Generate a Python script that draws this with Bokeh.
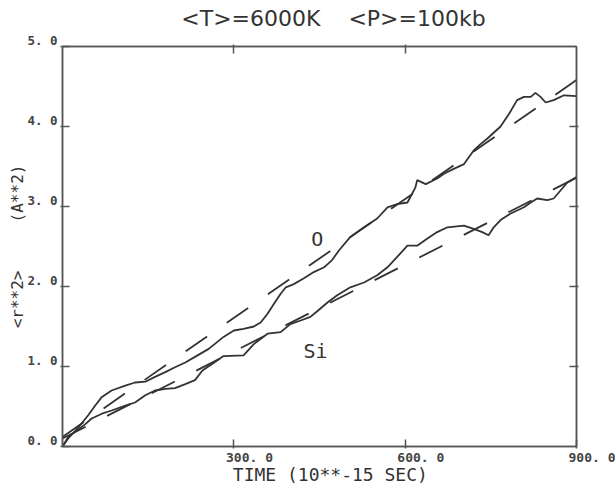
from bokeh.plotting import figure
from bokeh.models import LinearAxis, FixedTicker, Label, CustomLabelingPolicy
from bokeh.embed import file_html
from bokeh.resources import INLINE

# ---- data ----
time_o = [0, 10, 28, 45, 57, 69, 86, 110, 127, 145, 162, 180, 197, 215, 232, 256,
          282, 300, 317, 335, 347, 359, 370, 382, 391, 405, 422, 440, 458, 472, 484,
          504, 528, 551, 569, 586, 604, 618, 621, 636, 656, 668, 685, 703, 720, 732,
          744, 767, 782, 796, 808, 820, 828, 837, 846, 860, 878, 900]
msd_o = [0.0, 0.10, 0.24, 0.39, 0.51, 0.62, 0.70, 0.76, 0.80, 0.81, 0.87, 0.93, 0.99,
         1.05, 1.12, 1.22, 1.37, 1.45, 1.47, 1.50, 1.55, 1.66, 1.78, 1.91, 1.99, 2.03,
         2.10, 2.18, 2.24, 2.33, 2.45, 2.62, 2.74, 2.85, 2.99, 3.03, 3.05, 3.24, 3.33,
         3.28, 3.35, 3.41, 3.47, 3.53, 3.70, 3.78, 3.85, 4.00, 4.16, 4.33, 4.37, 4.37,
         4.42, 4.37, 4.30, 4.33, 4.39, 4.38]

time_si = [0, 10, 25, 40, 51, 69, 86, 110, 127, 145, 162, 180, 197, 215, 232, 245,
           262, 282, 317, 335, 359, 382, 399, 417, 434, 446, 464, 481, 504, 528, 551,
           569, 586, 604, 621, 639, 656, 674, 703, 720, 735, 746, 755, 767, 784, 796,
           808, 820, 831, 849, 860, 872, 884, 900]
msd_si = [0.0, 0.12, 0.20, 0.28, 0.35, 0.41, 0.45, 0.51, 0.55, 0.64, 0.70, 0.72, 0.73,
          0.78, 0.83, 0.95, 1.03, 1.13, 1.14, 1.28, 1.41, 1.43, 1.53, 1.575, 1.62, 1.69,
          1.80, 1.89, 1.99, 2.05, 2.14, 2.24, 2.37, 2.51, 2.51, 2.60, 2.68, 2.74, 2.76,
          2.72, 2.68, 2.64, 2.74, 2.83, 2.91, 2.95, 2.99, 3.05, 3.10, 3.08, 3.10, 3.20,
          3.30, 3.37]

fit_time = [0, 900]
fit_o = [0.12, 4.58]
fit_si = [0.10, 3.36]

x_ticks = [300, 600, 900]
x_tick_labels = ["300. 0", "600. 0", "900. 0"]
y_ticks = [0, 1, 2, 3, 4, 5]
y_tick_labels = ["0. 0", "1. 0", "2. 0", "3. 0", "4. 0", "5. 0"]

title_text = "<T>=6000K\u00a0\u00a0\u00a0\u00a0<P>=100kb"
x_title = "TIME (10**-15 SEC)"
y_title = "<r**2>" + "\u00a0" * 5 + "(A**2)"
label_o = "O"
label_si = "Si"

INK = "#333333"
FRAME = "#555555"
MONO = "DejaVu Sans Mono"
NB = "\u00a0"

p = figure(width=615, height=489, x_range=(0, 900), y_range=(0, 5),
           output_backend="svg", toolbar_location=None,
           min_border_left=62, min_border_right=39, min_border_top=46, min_border_bottom=43,
           x_axis_location=None, y_axis_location=None)
p.grid.visible = False
p.outline_line_color = FRAME
p.outline_line_width = 1.5
p.background_fill_color = "white"
p.border_fill_color = "white"

# title (leading no-break spaces shift its centre to the right like the reference)
p.title.text = NB * 4 + title_text
p.title.align = "center"
p.title.text_font = "DejaVu Sans"
p.title.text_font_size = "22px"
p.title.text_font_style = "normal"
p.title.text_color = INK
p.title.standoff = 6

hide_labels = CustomLabelingPolicy(code="""
for (const i of [...indices]) { indices.unset(i) }
return indices
""")

def style_axis(ax, ticks):
    ax.ticker = FixedTicker(ticks=ticks)
    ax.axis_line_color = FRAME
    ax.axis_line_width = 1.5
    ax.major_tick_line_color = FRAME
    ax.major_tick_line_width = 1.5
    ax.minor_tick_line_color = None
    ax.major_tick_in = 7
    ax.major_tick_out = 2

bottom = LinearAxis()
style_axis(bottom, x_ticks)
bottom.major_label_overrides = {t: NB * 4 + l for t, l in zip(x_ticks, x_tick_labels)}
bottom.major_label_text_font = MONO
bottom.major_label_text_font_style = "bold"
bottom.major_label_text_font_size = "13px"
bottom.major_label_text_color = "#444444"
bottom.major_label_standoff = 1
bottom.axis_label = NB * 2 + x_title
bottom.axis_label_text_font = MONO
bottom.axis_label_text_font_style = "normal"
bottom.axis_label_text_font_size = "18px"
bottom.axis_label_text_color = INK
bottom.axis_label_standoff = -4
p.add_layout(bottom, "below")

left = LinearAxis()
style_axis(left, y_ticks)
left.major_label_overrides = {t: l + "\n" for t, l in zip(y_ticks, y_tick_labels)}
left.major_label_text_font = MONO
left.major_label_text_font_style = "bold"
left.major_label_text_font_size = "12.5px"
left.major_label_text_line_height = 0.75
left.major_label_text_color = "#444444"
left.major_label_standoff = 3
left.axis_label = y_title
left.axis_label_text_font = MONO
left.axis_label_text_font_style = "normal"
left.axis_label_text_font_size = "16px"
left.axis_label_text_color = INK
left.axis_label_standoff = -3
p.add_layout(left, "left")

top = LinearAxis()
style_axis(top, [300, 600])
top.major_label_policy = hide_labels
top.major_label_standoff = 0
p.add_layout(top, "above")

right = LinearAxis()
style_axis(right, [1, 2, 3, 4])
right.major_label_policy = hide_labels
right.major_label_standoff = 0
p.add_layout(right, "right")

# fitted straight lines (dashed)
p.line(fit_time, fit_o, line_color=INK, line_width=1.8, line_dash="26 24")
p.line(fit_time, fit_si, line_color=INK, line_width=1.8, line_dash="26 24")
# computed curves
p.line(time_o, msd_o, line_color=INK, line_width=1.8)
p.line(time_si, msd_si, line_color=INK, line_width=1.8)

p.add_layout(Label(x=446, y=2.6, text=label_o, text_font=MONO, text_font_size="20px",
                   text_color=INK, text_align="center", text_baseline="middle"))
p.add_layout(Label(x=443, y=1.2, text=label_si, text_font=MONO, text_font_size="20px",
                   text_color=INK, text_align="center", text_baseline="middle"))

open("out.html", "w").write(file_html(p, INLINE))
